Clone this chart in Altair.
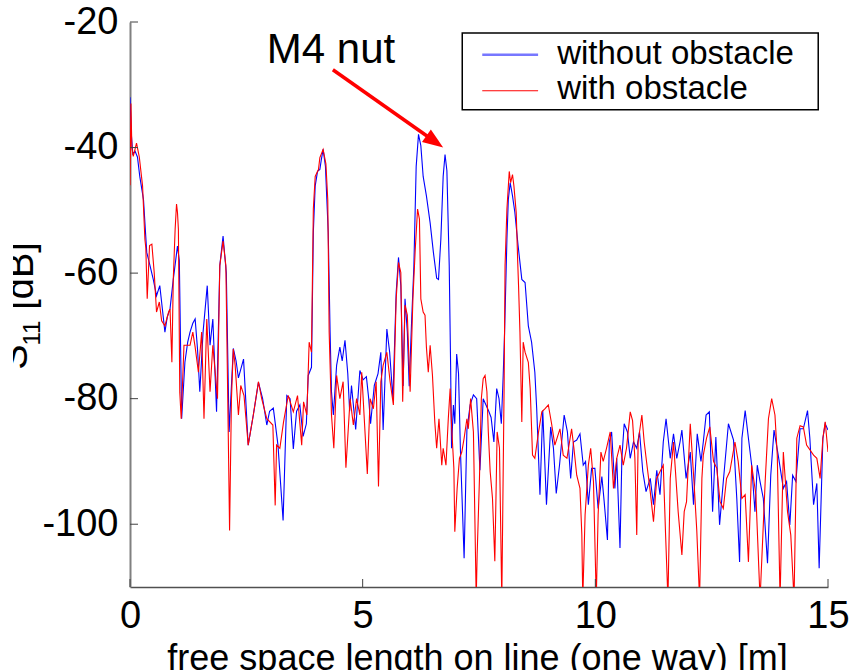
import altair as alt
import pandas as pd
import math

# ---------------- data ----------------
blue_x = [0.00,0.03,0.06,0.11,0.16,0.21,0.29,0.36,0.43,0.50,0.57,0.64,0.70,0.75,0.80,0.86,0.93,1.02,1.06,1.11,1.18,1.24,1.29,1.35,1.40,1.45,1.50,1.57,1.66,1.72,1.78,1.86,1.93,2.00,2.07,2.13,2.22,2.28,2.33,2.44,2.54,2.65,2.76,2.85,2.94,3.00,3.08,3.18,3.29,3.37,3.44,3.51,3.58,3.65,3.72,3.79,3.83,3.90,3.94,3.98,4.03,4.08,4.11,4.15,4.20,4.26,4.30,4.33,4.37,4.44,4.51,4.56,4.62,4.68,4.72,4.76,4.85,4.94,5.01,5.08,5.13,5.17,5.25,5.33,5.39,5.44,5.52,5.58,5.65,5.72,5.77,5.82,5.87,5.91,5.96,6.00,6.05,6.10,6.15,6.20,6.25,6.30,6.37,6.45,6.52,6.59,6.63,6.68,6.73,6.77,6.81,6.86,6.89,6.91,6.95,6.98,7.02,7.06,7.10,7.18,7.24,7.31,7.38,7.45,7.52,7.59,7.65,7.71,7.76,7.82,7.88,7.93,7.98,8.02,8.05,8.10,8.13,8.17,8.22,8.27,8.34,8.42,8.49,8.56,8.63,8.70,8.74,8.81,8.87,8.95,9.04,9.10,9.16,9.23,9.33,9.40,9.47,9.53,9.60,9.67,9.74,9.79,9.85,9.92,9.99,10.06,10.14,10.19,10.26,10.30,10.35,10.42,10.46,10.53,10.57,10.62,10.69,10.75,10.82,10.89,10.95,11.02,11.09,11.18,11.25,11.32,11.39,11.46,11.52,11.61,11.68,11.75,11.82,11.86,11.95,12.04,12.11,12.19,12.27,12.32,12.38,12.45,12.52,12.59,12.67,12.75,12.86,12.97,13.04,13.10,13.15,13.22,13.29,13.36,13.43,13.48,13.54,13.61,13.70,13.77,13.84,13.93,14.04,14.11,14.18,14.24,14.31,14.40,14.47,14.56,14.61,14.69,14.76,14.81,14.89,14.94,15.00]
blue_y = [-32,-38,-41,-40.6,-41.5,-44.6,-48.3,-56.7,-58.8,-61,-63.6,-62,-66,-69.4,-67,-65.7,-61,-55.7,-58,-83.2,-74.2,-71,-69.4,-68,-67.3,-72,-78.9,-69.4,-62,-71.5,-67.3,-82.1,-58.8,-54.1,-60,-85.3,-72,-74,-76.7,-73.7,-87.4,-82.6,-77.4,-80,-84.2,-82,-81.5,-87.4,-99.4,-79.5,-80,-88,-82,-81,-86,-84,-76.3,-75,-53.5,-46.1,-43.8,-43.5,-42,-40.3,-43,-53.5,-69.4,-78.9,-82.6,-74.7,-71.8,-74,-70.7,-76,-82,-77.9,-84.9,-75.5,-77,-76.5,-80,-84,-77.9,-76,-72.6,-85,-68.9,-72.6,-80,-63.1,-57.5,-62,-78,-64.1,-69.4,-78,-68,-59,-43,-37.9,-39.7,-44.6,-47.7,-52,-56.7,-60.8,-61,-54.6,-44.6,-41.1,-43.7,-58.8,-74.7,-87.9,-81,-84,-72.9,-76,-88,-105.4,-85,-81,-79.4,-80,-91.4,-80,-81,-82,-83,-86.9,-78.4,-80,-84,-76.3,-69.4,-54.6,-48.3,-45.6,-47.7,-50.3,-55.6,-61,-61.5,-68.4,-71,-75.8,-81.6,-95.3,-81.9,-96.9,-84.5,-87.9,-95.1,-90.6,-82.6,-85.3,-92.7,-86.9,-86.6,-85.6,-90.6,-90,-96.9,-91.1,-91.1,-97.5,-92.4,-96.4,-102.5,-86.9,-85.3,-94.3,-89.5,-103.8,-89.5,-84,-85.3,-89.5,-86.9,-87.9,-85.3,-91.6,-94.8,-92.7,-96.9,-91.4,-95.3,-86.9,-83.2,-89.5,-85.6,-89.5,-86.9,-85,-92.7,-88.5,-96.9,-85.6,-90,-86.9,-82.6,-82.1,-98,-86.1,-100.1,-93.2,-84,-86.6,-95.9,-106,-86.3,-81.9,-86.3,-90.6,-98,-90.6,-93.2,-95.9,-106.2,-92.2,-85,-89,-94.3,-93.2,-100.1,-92.2,-93.2,-84.8,-84.8,-81.9,-86.3,-96.9,-93.5,-107,-86.3,-84,-85]

red_x = [0.00,0.02,0.04,0.07,0.14,0.20,0.27,0.32,0.34,0.37,0.42,0.47,0.52,0.57,0.63,0.68,0.75,0.83,0.86,0.90,0.93,0.97,1.00,1.02,1.04,1.07,1.10,1.16,1.29,1.35,1.40,1.47,1.54,1.59,1.65,1.72,1.78,1.88,1.93,2.00,2.06,2.11,2.14,2.18,2.22,2.26,2.33,2.38,2.45,2.54,2.65,2.76,2.83,2.94,3.07,3.12,3.15,3.22,3.30,3.40,3.51,3.60,3.69,3.73,3.80,3.85,3.90,3.94,3.98,4.05,4.08,4.15,4.21,4.25,4.28,4.33,4.38,4.44,4.51,4.58,4.64,4.73,4.80,4.87,4.94,4.98,5.03,5.10,5.16,5.23,5.29,5.34,5.39,5.44,5.52,5.59,5.66,5.72,5.77,5.82,5.86,5.91,5.96,6.02,6.08,6.13,6.18,6.22,6.25,6.30,6.34,6.37,6.41,6.45,6.50,6.55,6.59,6.64,6.70,6.73,6.79,6.84,6.88,6.91,6.96,6.98,7.03,7.08,7.13,7.18,7.24,7.27,7.32,7.38,7.41,7.44,7.46,7.51,7.55,7.59,7.63,7.67,7.70,7.74,7.79,7.84,7.89,7.94,7.99,8.04,8.06,8.10,8.15,8.18,8.22,8.25,8.30,8.33,8.35,8.38,8.42,8.45,8.49,8.56,8.60,8.65,8.70,8.78,8.85,8.92,8.99,9.06,9.13,9.24,9.31,9.39,9.49,9.54,9.60,9.67,9.71,9.73,9.78,9.85,9.90,9.96,10.02,10.06,10.12,10.17,10.24,10.32,10.39,10.46,10.53,10.60,10.67,10.75,10.80,10.85,10.89,10.92,11.00,11.05,11.10,11.18,11.25,11.32,11.39,11.46,11.51,11.56,11.61,11.68,11.78,11.86,11.91,11.96,12.04,12.12,12.18,12.24,12.29,12.32,12.39,12.46,12.54,12.61,12.68,12.75,12.82,12.89,13.00,13.07,13.15,13.22,13.29,13.36,13.45,13.54,13.65,13.72,13.79,13.86,13.91,13.97,14.04,14.13,14.20,14.27,14.33,14.40,14.47,14.54,14.69,14.76,14.83,14.89,14.94,15.00]
red_y = [-46,-33,-40,-41.4,-39.3,-41.5,-46.1,-54.6,-56,-64.1,-55.6,-55.4,-59.9,-66.2,-64.6,-67.6,-68.4,-66.2,-65.7,-74.2,-61,-53,-49,-50.3,-53,-79,-83.2,-71.5,-71.5,-69.4,-71.8,-75.8,-69.4,-83.2,-67.3,-78.9,-71.5,-80,-58.8,-54.9,-58.8,-84.8,-101,-80,-72.1,-74.7,-82.6,-77.9,-79.5,-87.4,-82.6,-77.3,-80,-83.2,-84.2,-97,-87.4,-87.9,-83.7,-79.5,-82.1,-79.5,-87.4,-80.5,-82.6,-71,-72.6,-49.8,-44.6,-43.5,-41.6,-40.3,-42.6,-48.3,-69.4,-82.6,-87.9,-76.3,-80,-77.3,-91,-80,-84.2,-80,-82.6,-75.8,-82.6,-92,-80,-81.6,-77.3,-94,-77.3,-74.7,-72.6,-77.3,-81,-64.1,-58.3,-59.9,-80.5,-65.1,-66.7,-78.9,-64.1,-56.2,-49.8,-51.4,-64.1,-66.2,-66.7,-71.8,-75.8,-71.5,-76.3,-83.7,-87.9,-83.2,-90.6,-87.9,-90.6,-83.2,-78.4,-84.2,-91.1,-101.2,-94.3,-89.5,-88.5,-86.3,-83.2,-84.8,-80,-85.3,-98.5,-112,-104.9,-92.7,-80,-76.8,-76.3,-78.9,-85.3,-91.6,-95.9,-105.9,-85.3,-87.9,-112,-77.9,-58.8,-49.8,-43.8,-45.6,-44.3,-46.1,-50.4,-57.8,-62,-69.4,-83.7,-71,-72.6,-74.2,-78.4,-89,-89.5,-85.3,-82.1,-81.6,-81,-84,-87.4,-84.8,-89,-89.5,-84.8,-87.9,-92.2,-94.3,-101.7,-112,-98.5,-90.6,-87.9,-93.2,-112,-98.5,-88.5,-90,-87.9,-85.3,-94.3,-89.5,-87.4,-90.6,-87.9,-82.1,-83.5,-89.5,-101.7,-86.9,-82.6,-86.9,-90,-94.8,-99.6,-92.7,-91.6,-90.6,-101.7,-112,-92.7,-86.9,-98,-104.9,-98,-96.4,-84,-93.2,-101,-112,-92.7,-89,-86.3,-84.5,-90,-91.1,-96.4,-97.5,-92.7,-91.6,-86.9,-90,-95.9,-95.3,-106,-90.6,-95.3,-112,-93.2,-83.2,-80,-82.6,-89,-112,-88.5,-98,-101.7,-112,-86.3,-84.3,-84.5,-87.4,-89,-89.5,-92.7,-86.3,-83.7,-88.5]

series_names = ["without obstacle", "with obstacle"]
x_ticks = [0, 5, 10, 15]
y_ticks = [-20, -40, -60, -80, -100]
annotation_text = "M4 nut"
x_title = "free space length on line (one way) [m]"
y_title_parts = ["S", "11", "[dB]"]

# ---------------- layout ----------------
W, H = 698, 565
X_DOM = [0, 15]
Y_DOM = [-110, -20]
FONT = "Liberation Sans"
px_per_x = W / (X_DOM[1] - X_DOM[0])
px_per_y = H / (Y_DOM[1] - Y_DOM[0])

xs = alt.Scale(domain=X_DOM, nice=False, zero=False)
ys = alt.Scale(domain=Y_DOM, nice=False, zero=False)

blue_df = pd.DataFrame({"x": blue_x, "y": blue_y, "series": series_names[0]})
red_df = pd.DataFrame({"x": red_x, "y": red_y, "series": series_names[1]})

x_axis = alt.Axis(values=x_ticks, grid=False, tickSize=0, labelFontSize=38, labelFont=FONT,
                  labelPadding=10, labelColor="black", domainColor="#505050", domainWidth=1.5,
                  labelFlush=False, labelExpr="'' + datum.value",
                  title=x_title, titleFont=FONT,
                  titleFontSize=36, titleFontWeight="normal", titleColor="black",
                  titleX=347, titleY=82, titleBaseline="alphabetic", titleAlign="center")
y_axis = alt.Axis(values=y_ticks, grid=False, tickSize=0, labelFontSize=38, labelFont=FONT,
                  labelPadding=12, labelColor="black", domainColor="#808080", domainWidth=2,
                  labelFlush=False, labelExpr="'' + datum.value", title=None)

blue_line = alt.Chart(blue_df).mark_line(color="#0000ff", strokeWidth=1.1, clip=True).encode(
    x=alt.X("x:Q", scale=xs, axis=x_axis),
    y=alt.Y("y:Q", scale=ys, axis=y_axis),
    order="x:Q",
)
red_line = alt.Chart(red_df).mark_line(color="#ff0000", strokeWidth=1.1, clip=True).encode(
    x=alt.X("x:Q", scale=xs), y=alt.Y("y:Q", scale=ys), order="x:Q"
)

# inward ticks (MATLAB style)
tick_len = 8
ytick_df = pd.DataFrame({"y": y_ticks, "x0": X_DOM[0], "x1": X_DOM[0] + tick_len / px_per_x})
xtick_df = pd.DataFrame({"x": x_ticks, "y0": Y_DOM[0], "y1": Y_DOM[0] + tick_len / px_per_y})
yticks = alt.Chart(ytick_df).mark_rule(color="#404040", strokeWidth=1).encode(
    x=alt.X("x0:Q", scale=xs), x2="x1:Q", y=alt.Y("y:Q", scale=ys))
xticks = alt.Chart(xtick_df).mark_rule(color="#404040", strokeWidth=1).encode(
    x=alt.X("x:Q", scale=xs), y=alt.Y("y0:Q", scale=ys), y2="y1:Q")

# y-axis title "S11 [dB]" with subscript, rotated, partly cut at the left edge as in the figure
one = pd.DataFrame({"a": [0]})
def ytext(txt, size, xpx, ypx):
    return alt.Chart(one).mark_text(text=txt, font=FONT, fontSize=size, angle=270,
                                    align="center", baseline="alphabetic", color="black").encode(
        x=alt.value(xpx), y=alt.value(ypx))
ytitle_S = ytext(y_title_parts[0], 38, -103, 335)
ytitle_11 = ytext(y_title_parts[1], 24, -90, 311)
ytitle_dB = ytext(y_title_parts[2], 38, -97, 254)
cover = alt.Chart(one).mark_rect(fill="white").encode(
    x=alt.value(-131), x2=alt.value(-117), y=alt.value(200), y2=alt.value(370))

# annotation: "M4 nut" with red arrow
ann_df = pd.DataFrame({"x": [2.94], "y": [-26.6], "t": [annotation_text]})
ann_text = alt.Chart(ann_df).mark_text(font=FONT, fontSize=42, align="left",
                                       baseline="alphabetic", color="black").encode(
    x=alt.X("x:Q", scale=xs), y=alt.Y("y:Q", scale=ys), text="t:N")
ax0, ay0, ax1, ay1 = 4.36, -27.6, 6.73, -40.0
arrow_df = pd.DataFrame({"x": [ax0], "y": [ay0], "x2": [ax1 - 0.15], "y2": [ay1 + 0.8]})
arrow_shaft = alt.Chart(arrow_df).mark_rule(color="#ff0000", strokeWidth=3.5).encode(
    x=alt.X("x:Q", scale=xs), y=alt.Y("y:Q", scale=ys), x2="x2:Q", y2="y2:Q")
ang = math.degrees(math.atan2((ay0 - ay1) * px_per_y, (ax1 - ax0) * px_per_x)) + 90
head_df = pd.DataFrame({"x": [ax1], "y": [ay1]})
arrow_head = alt.Chart(head_df).mark_point(
    shape="M0,0 L0.75,2 L-0.75,2 Z", size=420, filled=True, color="#ff0000",
    opacity=1, angle=ang, strokeWidth=0).encode(
    x=alt.X("x:Q", scale=xs), y=alt.Y("y:Q", scale=ys))

# legend box (drawn in data space)
box_df = pd.DataFrame({"x": [7.14], "x2": [14.79], "y": [-21.75], "y2": [-33.97]})
legend_box = alt.Chart(box_df).mark_rect(fill="white", stroke="black", strokeWidth=1.5).encode(
    x=alt.X("x:Q", scale=xs), x2="x2:Q", y=alt.Y("y:Q", scale=ys), y2="y2:Q")
leg_lines_df = pd.DataFrame({"x": [7.57, 7.57], "x2": [8.77, 8.77], "y": [-25.2, -30.95],
                             "series": series_names})
leg_blue = alt.Chart(leg_lines_df.iloc[[0]]).mark_rule(color="#7777ff", strokeWidth=2.5).encode(
    x=alt.X("x:Q", scale=xs), x2="x2:Q", y=alt.Y("y:Q", scale=ys))
leg_red = alt.Chart(leg_lines_df.iloc[[1]]).mark_rule(color="#ff0000", strokeWidth=1.2).encode(
    x=alt.X("x:Q", scale=xs), x2="x2:Q", y=alt.Y("y:Q", scale=ys))
leg_text_df = pd.DataFrame({"x": [9.18, 9.18], "y": [-26.67, -32.2], "t": series_names})
leg_text = alt.Chart(leg_text_df).mark_text(font=FONT, fontSize=33, align="left",
                                            baseline="alphabetic", color="black").encode(
    x=alt.X("x:Q", scale=xs), y=alt.Y("y:Q", scale=ys), text="t:N")

chart = alt.layer(
    blue_line, red_line, yticks, xticks, arrow_shaft, arrow_head, ann_text,
    legend_box, leg_blue, leg_red, leg_text, ytitle_S, ytitle_11, ytitle_dB, cover
).properties(
    width=W, height=H,
    autosize=alt.AutoSizeParams(type="none"),
    padding={"left": 130, "top": 22, "right": 26, "bottom": 83},
    background="white",
).configure_view(stroke=None)

chart.save("out.html", embed_options={"renderer": "svg", "actions": False})
